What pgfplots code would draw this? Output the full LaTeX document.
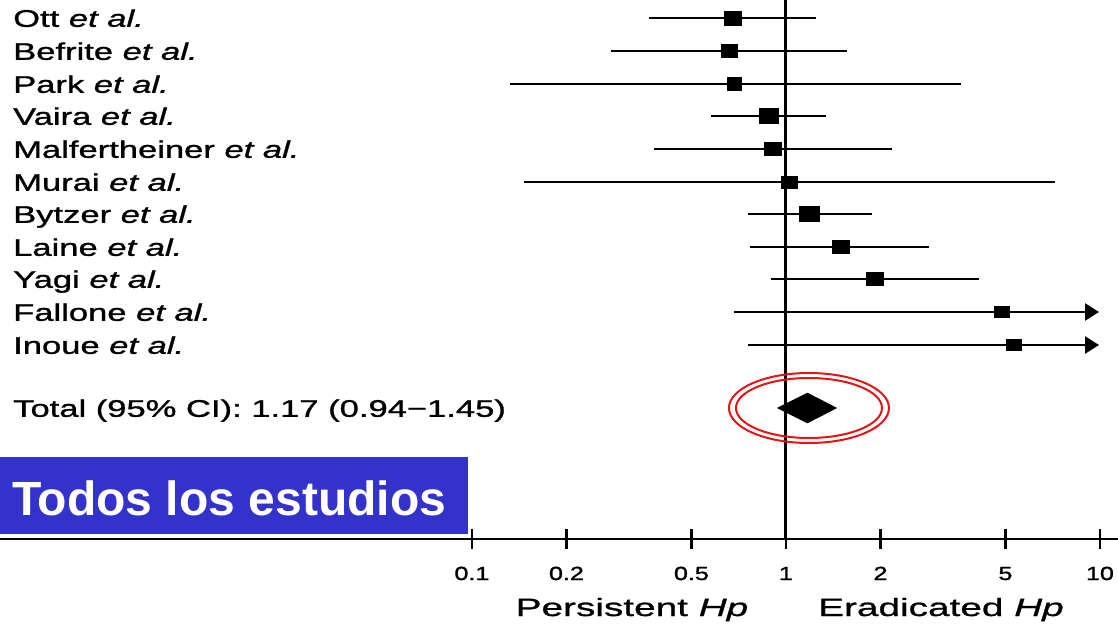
\documentclass[border=0pt]{standalone}
\usepackage{pgfplots}
\pgfplotsset{compat=1.18}
\usetikzlibrary{arrows.meta}
\usepackage{fontspec}
\setmainfont{Liberation Sans}
\newfontfamily\labfont[FakeStretch=1.44,FakeBold=1.2]{Liberation Sans}
\newfontfamily\tickfont[FakeStretch=1.32,FakeBold=1.6]{Liberation Sans}
\newfontfamily\xlfont[FakeStretch=1.55,FakeBold=1.0]{Liberation Sans}
\definecolor{boxblue}{RGB}{51,51,204}
\definecolor{ringred}{RGB}{230,20,20}

\begin{document}
\begin{tikzpicture}[x=1pt,y=1pt]
\useasboundingbox (0,-85) rectangle (1118,539);
\begin{axis}[
  at={(0,0)}, anchor=south west,
  scale only axis, width=1118pt, height=539pt,
  xmode=log, xmin=0.003142, xmax=11.41, ymin=-539, ymax=0,
  axis x line=bottom, axis y line=left,
  x axis line style={-, line width=2.6pt, black},
  y axis line style={draw=none},
  xtick={0.1,0.2,0.5,1,2,5,10},
  xticklabels={0.1,0.2,0.5,1,2,5,10},
  xtick align=center, major tick length=20pt,
  xtick style={line width=2.2pt, black},
  minor xtick={},
  ytick style={draw=none},
  xticklabel style={font=\fontsize{19}{19}\tickfont, anchor=base, yshift=-31pt, inner sep=0pt},
  ytick={-18,-51,-84,-116,-149,-182,-214,-247,-279,-312,-345,-408},
  yticklabels={Ott \textit{et al.},Befrite \textit{et al.},Park \textit{et al.},Vaira \textit{et al.},Malfertheiner \textit{et al.},Murai \textit{et al.},Bytzer \textit{et al.},Laine \textit{et al.},Yagi \textit{et al.},Fallone \textit{et al.},Inoue \textit{et al.},Total (95\% CI): 1.17 (0.94−1.45)},
  yticklabel style={font=\fontsize{24}{24}\labfont, anchor=base west, xshift=23pt, yshift=-8.8pt, inner sep=0pt},
  clip=false,
]
% line of no effect
\addplot[black, line width=3pt] coordinates {(1,-539) (1,0)};
% confidence intervals
\addplot[black, line width=2.6pt] coordinates {(0.366,-18) (1.246,-18)};
\addplot[black, line width=2.6pt] coordinates {(0.278,-51) (1.56,-51)};
\addplot[black, line width=2.6pt] coordinates {(0.132,-84) (3.60,-84)};
\addplot[black, line width=2.6pt] coordinates {(0.577,-116) (1.34,-116)};
\addplot[black, line width=2.6pt] coordinates {(0.381,-149) (2.17,-149)};
\addplot[black, line width=2.6pt] coordinates {(0.1465,-182) (7.17,-182)};
\addplot[black, line width=2.6pt] coordinates {(0.758,-214) (1.886,-214)};
\addplot[black, line width=2.6pt] coordinates {(0.770,-247) (2.86,-247)};
\addplot[black, line width=2.6pt] coordinates {(0.899,-279) (4.12,-279)};
\addplot[black, line width=2.6pt, -{Triangle[length=14pt,width=17pt]}] coordinates {(0.681,-312) (9.93,-312)};
\addplot[black, line width=2.6pt, -{Triangle[length=14pt,width=17pt]}] coordinates {(0.758,-345) (9.93,-345)};
% point estimates
\addplot[only marks, mark=square*, mark size=7pt, mark options={xscale=1.2, fill=black, draw=black}] coordinates {(0.676,-18)};
\addplot[only marks, mark=square*, mark size=6.5pt, mark options={xscale=1.2, fill=black, draw=black}] coordinates {(0.66,-51)};
\addplot[only marks, mark=square*, mark size=6.3pt, mark options={xscale=1.15, fill=black, draw=black}] coordinates {(0.685,-84)};
\addplot[only marks, mark=square*, mark size=7.5pt, mark options={xscale=1.3, fill=black, draw=black}] coordinates {(0.88,-116)};
\addplot[only marks, mark=square*, mark size=6.5pt, mark options={xscale=1.25, fill=black, draw=black}] coordinates {(0.907,-149)};
\addplot[only marks, mark=square*, mark size=6pt, mark options={xscale=1.3, fill=black, draw=black}] coordinates {(1.026,-182)};
\addplot[only marks, mark=square*, mark size=7.5pt, mark options={xscale=1.35, fill=black, draw=black}] coordinates {(1.186,-214)};
\addplot[only marks, mark=square*, mark size=6.7pt, mark options={xscale=1.3, fill=black, draw=black}] coordinates {(1.496,-247)};
\addplot[only marks, mark=square*, mark size=6.7pt, mark options={xscale=1.3, fill=black, draw=black}] coordinates {(1.92,-279)};
\addplot[only marks, mark=square*, mark size=5.5pt, mark options={xscale=1.35, fill=black, draw=black}] coordinates {(4.86,-312)};
\addplot[only marks, mark=square*, mark size=5.5pt, mark options={xscale=1.35, fill=black, draw=black}] coordinates {(5.32,-345)};
% pooled estimate
\addplot[draw=black, fill=black, line width=0.5pt] coordinates {(0.94,-408) (1.17,-393) (1.45,-408) (1.17,-423)} -- cycle;
% highlight ellipses
\draw[ringred, line width=2pt] (axis cs:1.184,-408) ellipse [x radius=80pt, y radius=35pt];
\draw[ringred, line width=2pt] (axis cs:1.184,-408) ellipse [x radius=73pt, y radius=30pt];
\end{axis}
% bottom labels
\node[anchor=base, inner sep=0pt, font=\fontsize{25}{25}\xlfont] at (632,-77) {Persistent \textit{Hp}};
\node[anchor=base, inner sep=0pt, font=\fontsize{25}{25}\xlfont] at (941,-77) {Eradicated \textit{Hp}};
% title box
\fill[boxblue] (0,5) rectangle (468,82);
\node[anchor=base west, inner sep=0pt, text=white, font=\fontsize{48}{48}\selectfont\bfseries] at (12,24) {Todos los estudios};
\end{tikzpicture}
\end{document}
